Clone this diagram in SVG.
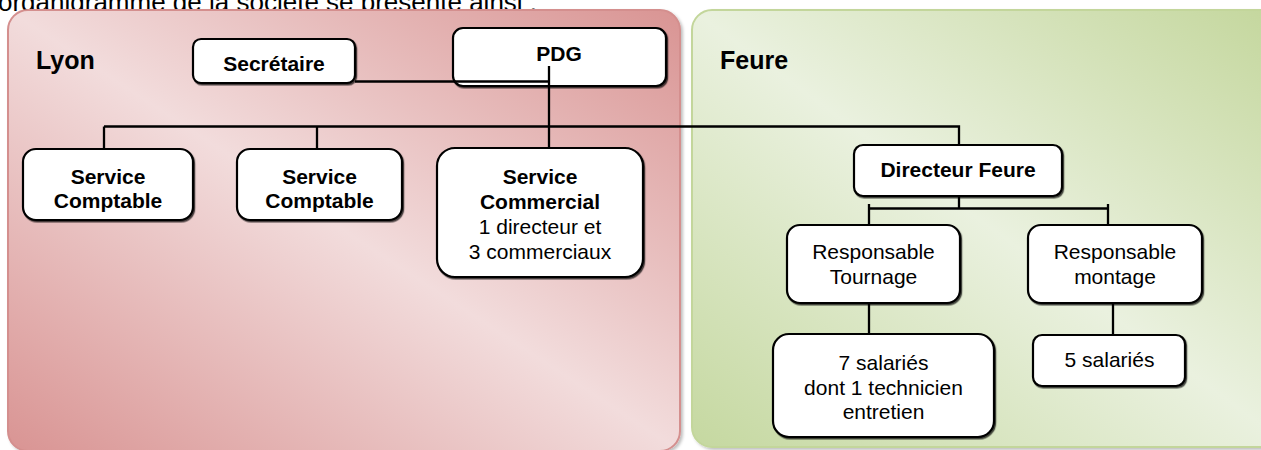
<svg xmlns="http://www.w3.org/2000/svg" width="1261" height="450" viewBox="0 0 1261 450">
  <defs>
    <linearGradient id="gLyon" x1="0" y1="1" x2="1" y2="0">
      <stop offset="0" stop-color="#d99493"/>
      <stop offset="0.5" stop-color="#f2dcdc"/>
      <stop offset="1" stop-color="#d99493"/>
    </linearGradient>
    <linearGradient id="gFeure" x1="0" y1="1" x2="1" y2="0">
      <stop offset="0" stop-color="#c5d8a0"/>
      <stop offset="0.5" stop-color="#eaf1df"/>
      <stop offset="1" stop-color="#c3d69b"/>
    </linearGradient>
    <filter id="panelShadow" x="-5%" y="-5%" width="110%" height="110%">
      <feDropShadow dx="2" dy="2" stdDeviation="1.5" flood-color="#000" flood-opacity="0.25"/>
    </filter>
    <filter id="nodeShadow" x="-5%" y="-5%" width="110%" height="115%">
      <feDropShadow dx="1.2" dy="1.5" stdDeviation="0.4" flood-color="#000" flood-opacity="0.7"/>
    </filter>
  </defs>
  <style>
    .node rect { fill: #ffffff; stroke: #000000; stroke-width: 2.2; filter: url(#nodeShadow); }
    .b { font-family: "Liberation Sans", Arial, sans-serif; font-weight: bold; font-size: 21px; fill: #000; text-anchor: middle; }
    .r { font-family: "Liberation Sans", Arial, sans-serif; font-size: 21px; fill: #000; text-anchor: middle; }
    .lbl { font-family: "Liberation Sans", Arial, sans-serif; font-weight: bold; font-size: 25px; fill: #000; }
    .top { font-family: "Liberation Sans", Arial, sans-serif; font-size: 26px; fill: #000; }
    #connectors path { fill: none; stroke: #000; stroke-width: 2.3; }
  </style>
  <rect x="0" y="0" width="1261" height="450" fill="#ffffff"/>
  <text class="top" x="-2" y="10.5">organigramme de la société se présente ainsi :</text>

  <g id="panel-lyon">
    <rect x="8" y="10" width="672" height="441" rx="20" ry="20" fill="url(#gLyon)" stroke="#d48f8e" stroke-width="2" filter="url(#panelShadow)"/>
    <text class="lbl" x="36" y="69">Lyon</text>
  </g>
  <g id="panel-feure">
    <rect x="692" y="10" width="600" height="437" rx="20" ry="20" fill="url(#gFeure)" stroke="#c3d69b" stroke-width="2" filter="url(#panelShadow)"/>
    <text class="lbl" x="720" y="69">Feure</text>
  </g>

  <g id="node-secretaire" class="node">
    <rect x="193" y="39" width="162" height="44" rx="8"/>
    <text class="b" x="274" y="70.5">Secrétaire</text>
  </g>
  <g id="node-pdg" class="node">
    <rect x="453" y="28" width="213" height="58" rx="10"/>
    <text class="b" x="559" y="61">PDG</text>
  </g>
  <g id="node-comptable1" class="node">
    <rect x="23" y="149" width="170" height="71" rx="13"/>
    <text class="b" x="108" y="183.5">Service</text>
    <text class="b" x="108" y="207.5">Comptable</text>
  </g>
  <g id="node-comptable2" class="node">
    <rect x="237" y="149" width="165" height="71" rx="13"/>
    <text class="b" x="319.5" y="183.5">Service</text>
    <text class="b" x="319.5" y="207.5">Comptable</text>
  </g>
  <g id="node-commercial" class="node">
    <rect x="437" y="148" width="206" height="129" rx="18"/>
    <text class="b" x="540" y="184">Service</text>
    <text class="b" x="540" y="209">Commercial</text>
    <text class="r" x="540" y="234">1 directeur et</text>
    <text class="r" x="540" y="259">3 commerciaux</text>
  </g>
  <g id="node-directeur-feure" class="node">
    <rect x="854" y="145" width="208" height="51" rx="9"/>
    <text class="b" x="958" y="176.5">Directeur Feure</text>
  </g>
  <g id="node-resp-tournage" class="node">
    <rect x="787" y="225" width="173" height="78" rx="13"/>
    <text class="r" x="873.5" y="259">Responsable</text>
    <text class="r" x="873.5" y="284">Tournage</text>
  </g>
  <g id="node-resp-montage" class="node">
    <rect x="1028" y="225" width="174" height="78" rx="13"/>
    <text class="r" x="1115" y="259">Responsable</text>
    <text class="r" x="1115" y="284">montage</text>
  </g>
  <g id="node-7-salaries" class="node">
    <rect x="773" y="334" width="221" height="103" rx="16"/>
    <text class="r" x="883.5" y="370">7 salariés</text>
    <text class="r" x="883.5" y="394.5">dont 1 technicien</text>
    <text class="r" x="883.5" y="419">entretien</text>
  </g>
  <g id="node-5-salaries" class="node">
    <rect x="1033" y="335" width="152" height="51" rx="9"/>
    <text class="r" x="1109.5" y="367">5 salariés</text>
  </g>

  <g id="connectors">
    <path d="M355,81.5 H549"/>
    <path d="M549,66 V148"/>
    <path d="M104,126.5 H959 V145"/>
    <path d="M104,126.5 V149"/>
    <path d="M317,126.5 V149"/>
    <path d="M959,196 V208.5"/>
    <path d="M869,208.5 H1108"/>
    <path d="M869,204 V225"/>
    <path d="M1108,204 V225"/>
    <path d="M869,303 V334"/>
    <path d="M1113,303 V335"/>
  </g>
</svg>
